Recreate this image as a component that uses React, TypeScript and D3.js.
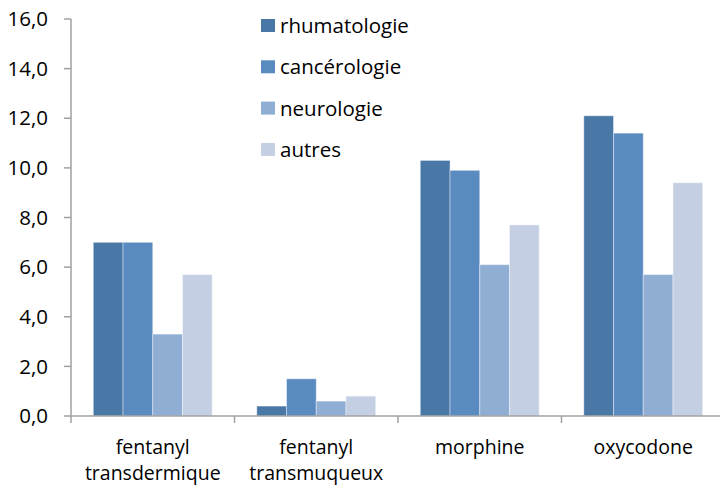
import React from "react";
import * as d3 from "d3";

const categories = [["fentanyl", "transdermique"], ["fentanyl", "transmuqueux"], ["morphine"], ["oxycodone"]];
const seriesNames = ["rhumatologie", "cancérologie", "neurologie", "autres"];
const seriesColors = ["#4A78A6", "#5A8BC0", "#90AED3", "#C4CFE3"];
const values = [
  [7.0, 0.4, 10.3, 12.1],
  [7.0, 1.5, 9.9, 11.4],
  [3.3, 0.6, 6.1, 5.7],
  [5.7, 0.8, 7.7, 9.4],
];
const yTicks = [0, 2, 4, 6, 8, 10, 12, 14, 16];

const W = 720, H = 486;
const left = 71, right = 725, top = 19, bottom = 416;
const font = "'Open Sans', sans-serif";
const fs = 20.5;
const catFs = 19.5;

export default function App() {
  const x = d3.scaleBand<number>().domain(d3.range(categories.length)).range([left, right]).paddingInner(0).paddingOuter(0);
  const inner = d3.scaleBand<number>().domain(d3.range(seriesNames.length)).range([0, x.bandwidth()]).paddingOuter(0.75).paddingInner(0);
  const y = d3.scaleLinear().domain([0, 16]).range([bottom, top]);
  const fmt = (v: number) => v.toFixed(1).replace(".", ",");
  const catTicks = d3.range(categories.length + 1).map((i) => left + i * x.step());
  return (
    <svg width={W} height={H} style={{ position: "absolute", left: 0, top: 0, background: "#fff" }}>
      {values.map((row, s) =>
        row.map((v, c) => (
          <rect key={`${s}-${c}`} x={(x(c) as number) + (inner(s) as number)} y={y(v)} width={inner.bandwidth()} height={bottom - y(v)}
            fill={seriesColors[s]} stroke="#ffffff" strokeOpacity={0.4} strokeWidth={1} />
        ))
      )}
      <line x1={left} x2={left} y1={top} y2={bottom} stroke="#A0A0A0" strokeWidth={1.5} />
      {yTicks.map((t) => (
        <g key={t}>
          <line x1={left - 7} x2={left} y1={y(t)} y2={y(t)} stroke="#A0A0A0" strokeWidth={1.5} />
          <text x={48} y={y(t)} dy="0.35em" textAnchor="end" fontFamily={font} fontSize={fs} fill="#000">{fmt(t)}</text>
        </g>
      ))}
      <line x1={left} x2={W} y1={bottom} y2={bottom} stroke="#A0A0A0" strokeWidth={1.5} />
      {catTicks.map((t, i) => (
        <line key={i} x1={t} x2={t} y1={bottom} y2={bottom + 7} stroke="#A0A0A0" strokeWidth={1.5} />
      ))}
      {categories.map((lines, c) =>
        lines.map((l, i) => (
          <text key={`${c}-${i}`} x={(x(c) as number) + x.bandwidth() / 2} y={453.5 + i * 26.5} textAnchor="middle" fontFamily={font} fontSize={catFs} fill="#000">{l}</text>
        ))
      )}
      {seriesNames.map((n, i) => (
        <g key={n} transform={`translate(261, ${19 + i * 41.3})`}>
          <rect x={0} y={0} width={14} height={13} fill={seriesColors[i]} />
          <text x={19} y={7} dy="0.35em" fontFamily={font} fontSize={fs} fill="#000">{n}</text>
        </g>
      ))}
    </svg>
  );
}
